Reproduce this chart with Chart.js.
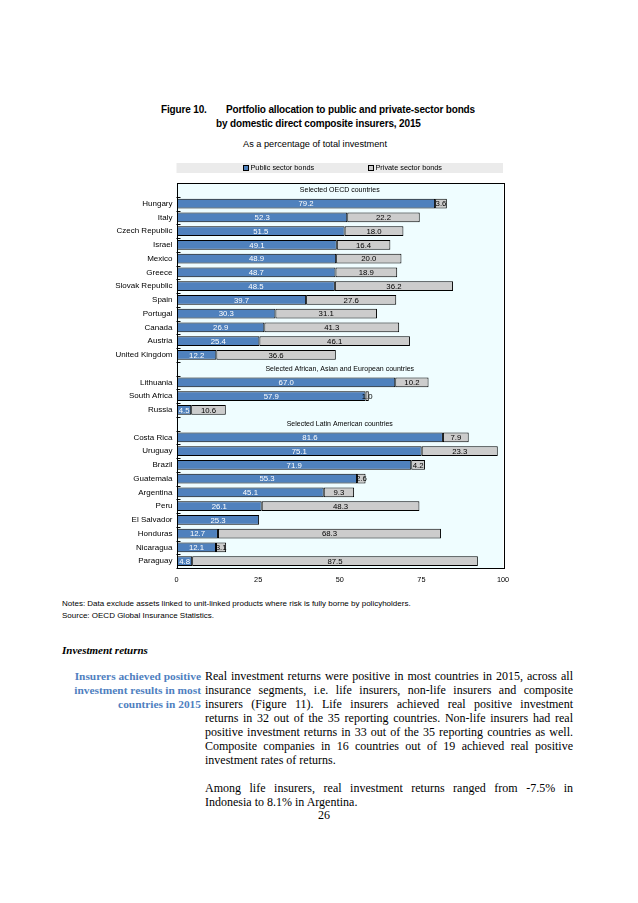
<!DOCTYPE html>
<html>
<head>
<meta charset="utf-8">
<script src="https://cdn.jsdelivr.net/npm/chart.js@4.4.0/dist/chart.umd.min.js"></script>
<style>
body{margin:0;background:#fff;width:638px;height:903px;position:relative;overflow:hidden;font-family:"Liberation Sans",Arial,sans-serif;color:#000;}
.t{position:absolute;white-space:nowrap;line-height:1;color:#000;}
.ttl{font-weight:bold;font-size:10px;letter-spacing:-0.15px;}
.note{font-size:8px;left:62px;}
.serif{font-family:"Liberation Serif","Times New Roman",serif;}
.side{position:absolute;right:437px;text-align:right;font-family:"Liberation Serif",serif;font-weight:bold;font-size:11.4px;color:#4f7fbf;line-height:14px;white-space:nowrap;}
.body{position:absolute;left:205px;width:368px;font-family:"Liberation Serif",serif;font-size:12px;line-height:14px;color:#000;}
.body div{text-align:justify;text-align-last:justify;white-space:nowrap;}
.body div.last{text-align-last:left;}
#wrap{position:absolute;left:100px;top:150px;width:479px;height:440px;}
</style>
</head>
<body>
<div class="t ttl" style="left:161px;top:105px;">Figure 10.</div>
<div class="t ttl" style="left:226px;top:105px;">Portfolio allocation to public and private-sector bonds</div>
<div class="t ttl" style="left:216px;top:119px;">by domestic direct composite insurers, 2015</div>
<div class="t" style="left:243px;top:140px;font-size:9.2px;">As a percentage of total investment</div>

<div id="wrap"><canvas id="myChart" width="479" height="440"></canvas></div>

<div class="t note" style="top:600px;">Notes: Data exclude assets linked to unit-linked products where risk is fully borne by policyholders.</div>
<div class="t note" style="top:612px;">Source: OECD Global Insurance Statistics.</div>

<div class="t serif" style="left:62px;top:645px;font-size:11px;font-weight:bold;font-style:italic;">Investment returns</div>

<div class="side" style="top:669px;">Insurers achieved positive<br>investment results in most<br>countries in 2015</div>

<div class="body" style="top:669px;">
<div>Real investment returns were positive in most countries in 2015, across all</div>
<div>insurance segments, i.e. life insurers, non-life insurers and composite</div>
<div>insurers (Figure 11). Life insurers achieved real positive investment</div>
<div>returns in 32 out of the 35 reporting countries. Non-life insurers had real</div>
<div>positive investment returns in 33 out of the 35 reporting countries as well.</div>
<div>Composite companies in 16 countries out of 19 achieved real positive</div>
<div class="last">investment rates of returns.</div>
<div class="last">&nbsp;</div>
<div>Among life insurers, real investment returns ranged from -7.5% in</div>
<div class="last">Indonesia to 8.1% in Argentina.</div>
</div>
<div class="t serif" style="left:318px;top:809px;font-size:12px;">26</div>

<script>
var sectionTitles = ['Selected OECD countries', 'Selected African, Asian and European countries', 'Selected Latin American countries'];

var oecdCountries = ['Hungary', 'Italy', 'Czech Republic', 'Israel', 'Mexico', 'Greece', 'Slovak Republic', 'Spain', 'Portugal', 'Canada', 'Austria', 'United Kingdom'];
var oecdPublic  = [79.2, 52.3, 51.5, 49.1, 48.9, 48.7, 48.5, 39.7, 30.3, 26.9, 25.4, 12.2];
var oecdPrivate = [3.6, 22.2, 18.0, 16.4, 20.0, 18.9, 36.2, 27.6, 31.1, 41.3, 46.1, 36.6];

var aaeCountries = ['Lithuania', 'South Africa', 'Russia'];
var aaePublic  = [67.0, 57.9, 4.5];
var aaePrivate = [10.2, 1.0, 10.6];

var latamCountries = ['Costa Rica', 'Uruguay', 'Brazil', 'Guatemala', 'Argentina', 'Peru', 'El Salvador', 'Honduras', 'Nicaragua', 'Paraguay'];
var latamPublic  = [81.6, 75.1, 71.9, 55.3, 45.1, 26.1, 25.3, 12.7, 12.1, 4.8];
var latamPrivate = [7.9, 23.3, 4.2, 2.6, 9.3, 48.3, null, 68.3, 3.1, 87.5];

var seriesNames = ['Public sector bonds', 'Private sector bonds'];
var xTicks = [0, 25, 50, 75, 100];

// one header row in front of every group
var labels = [], pub = [], priv = [], headerRows = [];
var groups = [
    [oecdCountries, oecdPublic, oecdPrivate],
    [aaeCountries, aaePublic, aaePrivate],
    [latamCountries, latamPublic, latamPrivate]
];
for (var g = 0; g < groups.length; g++) {
    headerRows.push(labels.length);
    labels.push('');
    pub.push(null);
    priv.push(null);
    labels = labels.concat(groups[g][0]);
    pub = pub.concat(groups[g][1]);
    priv = priv.concat(groups[g][2]);
}

var FONT = '"Liberation Sans", Arial, sans-serif';

var paperPlugin = {
    id: 'paper',
    beforeDraw: function(chart) {
        var c = chart.ctx, a = chart.chartArea;
        c.save();
        c.fillStyle = '#effdff';
        c.fillRect(a.left, a.top, a.right - a.left, a.bottom - a.top);
        // legend band
        c.fillStyle = '#ebebeb';
        c.fillRect(a.left, a.top - 20, a.right - a.left, 10);
        var offs = [66.5, 191.5];
        c.font = '7.3px ' + FONT;
        c.textBaseline = 'middle';
        for (var i = 0; i < chart.data.datasets.length; i++) {
            var ds = chart.data.datasets[i];
            var x = Math.round(a.left + offs[i]) + 0.5, y = Math.round(a.top - 18) + 0.5;
            c.fillStyle = ds.backgroundColor;
            c.fillRect(x, y, 5, 5);
            c.strokeStyle = '#000';
            c.lineWidth = 1;
            c.strokeRect(x, y, 5, 5);
            c.fillStyle = '#000';
            c.fillText(ds.label, x + 7, a.top - 15);
        }
        c.restore();
    },
    afterDatasetsDraw: function(chart) {
        var c = chart.ctx, a = chart.chartArea;
        var ys = chart.scales.y;
        c.save();
        c.font = '7.8px ' + FONT;
        c.textAlign = 'center';
        c.textBaseline = 'middle';
        var colors = ['#ffffff', '#000000'];
        for (var i = 0; i < chart.data.datasets.length; i++) {
            var meta = chart.getDatasetMeta(i);
            var vals = chart.data.datasets[i].data;
            c.fillStyle = colors[i];
            meta.data.forEach(function(el, j) {
                if (vals[j] == null) return;
                var p = el.getCenterPoint();
                c.fillText(vals[j].toFixed(1), p.x, p.y + 0.5);
            });
        }
        // section titles
        c.fillStyle = '#000';
        c.font = '7px ' + FONT;
        for (var k = 0; k < headerRows.length; k++) {
            c.fillText(sectionTitles[k], (a.left + a.right) / 2, ys.getPixelForValue(headerRows[k]) + 0.5);
        }
        // little inside ticks between rows
        c.strokeStyle = '#000';
        c.lineWidth = 1;
        c.beginPath();
        for (var r = 0; r < labels.length; r++) {
            var yy = Math.round(ys.getPixelForValue(r + 0.5)) + 0.5;
            c.moveTo(a.left, yy);
            c.lineTo(a.left + 4, yy);
        }
        c.stroke();
        // frame
        c.strokeRect(Math.round(a.left) + 0.5, Math.round(a.top) + 0.5, Math.round(a.right - a.left), Math.round(a.bottom - a.top));
        c.restore();
    }
};

var ctx = document.getElementById('myChart').getContext('2d');
var myChart = new Chart(ctx, {
    type: 'bar',
    data: {
        labels: labels,
        datasets: [{
            label: seriesNames[0],
            data: pub,
            backgroundColor: '#4f81bd',
            borderColor: '#000',
            borderWidth: 1,
            borderSkipped: false
        }, {
            label: seriesNames[1],
            data: priv,
            backgroundColor: '#cccccc',
            borderColor: '#000',
            borderWidth: 1,
            borderSkipped: false
        }]
    },
    options: {
        responsive: false,
        animation: false,
        indexAxis: 'y',
        barPercentage: 0.7,
        categoryPercentage: 1,
        layout: { padding: { top: 33, right: 76, left: 0, bottom: 0 } },
        plugins: {
            legend: { display: false },
            tooltip: { enabled: false }
        },
        scales: {
            x: {
                stacked: true,
                min: 0,
                max: 100,
                afterFit: function(s) { s.height = 22; },
                afterBuildTicks: function(s) { s.ticks = xTicks.map(function(v) { return { value: v }; }); },
                grid: { display: true, drawOnChartArea: false, drawTicks: false },
                border: { display: false },
                ticks: { color: '#000', font: { size: 7.3, family: FONT }, padding: 8 }
            },
            y: {
                stacked: true,
                afterFit: function(s) { s.width = 76.5; },
                grid: { display: true, drawOnChartArea: false, drawTicks: false },
                border: { display: false },
                ticks: { color: '#000', font: { size: 8, family: FONT }, padding: 4, autoSkip: false }
            }
        }
    },
    plugins: [paperPlugin]
});
</script>
</body>
</html>
